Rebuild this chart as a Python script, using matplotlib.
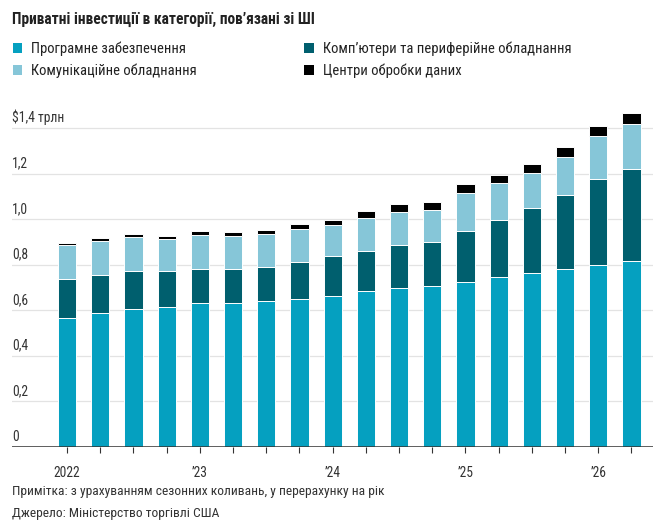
import numpy as np
import matplotlib.pyplot as plt
from matplotlib.transforms import blended_transform_factory

plt.rcParams['font.family'] = ['Roboto Condensed', 'Roboto', 'DejaVu Sans']

quarters = ['2022 Q1', '2022 Q2', '2022 Q3', '2022 Q4',
            '2023 Q1', '2023 Q2', '2023 Q3', '2023 Q4',
            '2024 Q1', '2024 Q2', '2024 Q3', '2024 Q4',
            '2025 Q1', '2025 Q2', '2025 Q3', '2025 Q4',
            '2026 Q1', '2026 Q2']

software = [0.568, 0.590, 0.605, 0.614, 0.634, 0.631, 0.643, 0.652, 0.664,
            0.686, 0.699, 0.709, 0.724, 0.749, 0.766, 0.781, 0.799, 0.816]
computers = [0.169, 0.167, 0.169, 0.160, 0.148, 0.151, 0.148, 0.160, 0.173,
             0.177, 0.190, 0.191, 0.227, 0.250, 0.285, 0.327, 0.380, 0.405]
comms = [0.152, 0.146, 0.148, 0.139, 0.150, 0.144, 0.147, 0.146, 0.139,
         0.141, 0.145, 0.140, 0.167, 0.160, 0.152, 0.167, 0.187, 0.197]
data_centers = [0.009, 0.016, 0.013, 0.014, 0.017, 0.019, 0.016, 0.022, 0.023,
                0.032, 0.033, 0.035, 0.038, 0.038, 0.039, 0.042, 0.044, 0.050]

series_names = ['Програмне забезпечення', 'Комп\u2019ютери та периферійне обладнання',
                'Комунікаційне обладнання', 'Центри обробки даних']
colors = ['#05a0c0', '#005f6e', '#86c6d8', '#000000']

year_labels = {0: '2022', 4: '\u201923', 8: '\u201924', 12: '\u201925', 16: '\u201926'}
yticks = [0, 0.2, 0.4, 0.6, 0.8, 1.0, 1.2, 1.4]
ytick_labels = ['0', '0,2', '0,4', '0,6', '0,8', '1,0', '1,2', '$1,4 трлн']

W, H = 665, 527
fig = plt.figure(figsize=(6.65, 5.27), dpi=100)
ax = fig.add_axes([12 / W, 1 - 447 / H, 641 / W, 341.4 / H])

x = np.arange(len(quarters))
bottom = np.zeros(len(quarters))
bars = []
for vals, name, c in zip([software, computers, comms, data_centers], series_names, colors):
    b = ax.bar(x, vals, width=0.55, bottom=bottom, color=c, edgecolor='white',
               linewidth=0.7, label=name, zorder=3)
    bars.append(b)
    bottom += np.array(vals)

ax.set_xlim(-1.66, 17.65)
ax.set_ylim(0, 1.5)

for y in yticks[1:]:
    ax.axhline(y, color='#e3e3e3', linewidth=0.9, zorder=1)
ax.axhline(0, color='#333333', linewidth=1.1, zorder=4)

tr = blended_transform_factory(ax.transAxes, ax.transData)
for y, lab in zip(yticks, ytick_labels):
    ax.text(0.0, y + 0.014, lab, transform=tr, ha='left', va='bottom',
            fontsize=9.8, color='#333333')

ax.set_yticks([])
ax.set_xticks(x)
ax.set_xticklabels([year_labels.get(i, '') for i in x], fontsize=9.8, color='#333333')
ax.tick_params(axis='x', length=4, width=0.8, color='#333333', pad=10)
for s in ax.spines.values():
    s.set_visible(False)

fig.text(12 / W, 1 - 19 / H, 'Приватні інвестиції в категорії, пов\u2019язані зі ШІ',
         fontsize=11.2, fontweight='bold', color='#222222', va='center', ha='left')

# legend in two columns, each placed at its own spot
leg_kw = dict(loc='upper left', frameon=False, fontsize=10.5, handlelength=0.68,
              handleheight=0.68, handletextpad=0.6, labelspacing=0.52,
              borderpad=0, borderaxespad=0, labelcolor='#222222')
leg1 = fig.legend([bars[0], bars[2]], [series_names[0], series_names[2]],
                  bbox_to_anchor=(12.5 / W, 1 - 41.5 / H), **leg_kw)
leg2 = fig.legend([bars[1], bars[3]], [series_names[1], series_names[3]],
                  bbox_to_anchor=(304 / W, 1 - 41.5 / H), **leg_kw)
for lg in (leg1, leg2):
    for h in lg.legend_handles:
        h.set_edgecolor('none')

fig.text(12 / W, 1 - 492 / H, 'Примітка: з урахуванням сезонних коливань, у перерахунку на рік',
         fontsize=9.7, color='#333333', va='center', ha='left')
fig.text(12 / W, 1 - 514 / H, 'Джерело: Міністерство торгівлі США',
         fontsize=9.7, color='#333333', va='center', ha='left')

fig.savefig('out.png', dpi=100)
